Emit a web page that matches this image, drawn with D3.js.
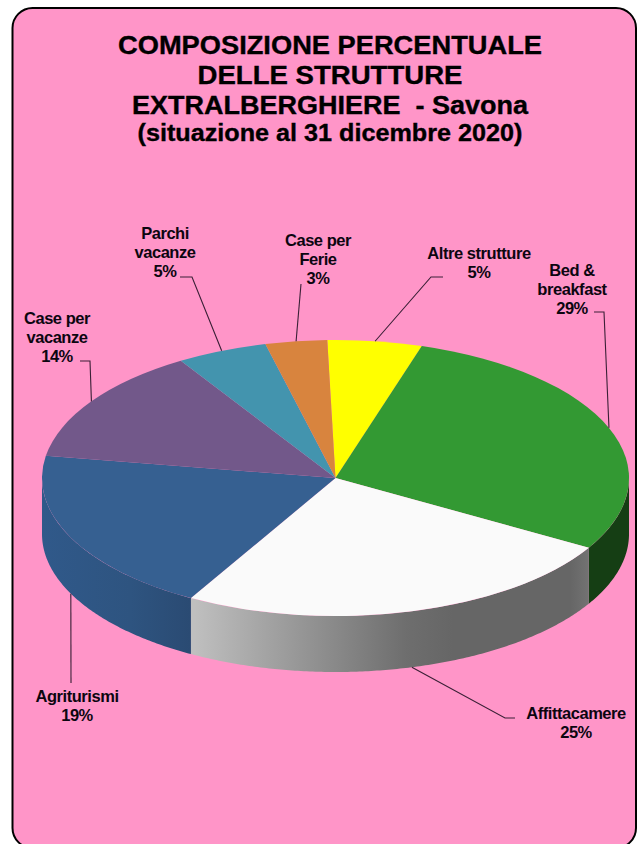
<!DOCTYPE html>
<html>
<head>
<meta charset="utf-8">
<script src="https://cdn.jsdelivr.net/npm/d3@7"></script>
<style>
  html, body { margin: 0; padding: 0; background: #fff; }
  svg { display: block; }
  text { font-family: "Liberation Sans", Arial, sans-serif; fill: #000; text-anchor: middle; }
  .title { font-weight: bold; stroke: #000; stroke-width: 0.35px; }
  .label { font-size: 16.5px; font-weight: bold; fill: #0c0610; letter-spacing: -0.45px; }
</style>
</head>
<body>
<div id="chart"></div>
<script>
const titleLines = ['COMPOSIZIONE PERCENTUALE', 'DELLE STRUTTURE', 'EXTRALBERGHIERE  - Savona', '(situazione al 31 dicembre 2020)'];

// clockwise from the top
const categories = [['Altre strutture'], ['Bed &', 'breakfast'], ['Affittacamere'], ['Agriturismi'], ['Case per', 'vacanze'], ['Parchi', 'vacanze'], ['Case per', 'Ferie']];
const shares = [5.2, 28.7, 24.8, 19.4, 13.6, 5.0, 3.4];
const topColors = ['#ffff00', '#339933', '#fafafa', '#366091', '#72588a', '#4394ae', '#d8843e'];

// label centre and leader elbow, same order as categories
const labelX = [479, 572, 576, 77, 57, 165, 318];
const labelY = [263, 290, 723, 706, 338, 253, 260];
const leaderBend = [[431, 277, 443], [604, 312, 594], [505, 718, 515], null, [90, 361, 80], [192, 277, 180], null];
const leaderEnd = [null, null, null, [71, 683], null, null, [301, 284]];

const w = 638;
const h = 844;
const depth = 56;
const startAngle = -1.6 * Math.PI / 180;

const xScale = d3.scaleLinear().domain([-1, 1]).range([42, 629]);
const yScale = d3.scaleLinear().domain([-1, 1]).range([340, 616]);
const rx = (xScale(1) - xScale(-1)) / 2;
const ry = (yScale(1) - yScale(-1)) / 2;

const svg = d3.select('#chart').append('svg').attr('width', w).attr('height', h);

svg.append('rect')
  .attr('x', 12.5).attr('y', 8)
  .attr('width', 623.5).attr('height', 840)
  .attr('rx', 20)
  .attr('fill', '#ff95c8')
  .attr('stroke', '#000')
  .attr('stroke-width', 2);

// title is stretched wider than the font, so each line gets a fixed length
const titleSizes = [25, 25, 25, 23];
const titleY = [54, 84, 114, 141];
const titleWidths = [424, 265, 396, 385];
svg.selectAll('.title').data(titleLines).join('text')
  .attr('class', 'title')
  .attr('x', 330)
  .attr('y', (_, i) => titleY[i])
  .attr('font-size', (_, i) => titleSizes[i])
  .attr('textLength', (_, i) => titleWidths[i])
  .attr('lengthAdjust', 'spacingAndGlyphs')
  .style('white-space', 'pre')
  .text((d) => d);

const slices = d3.pie().sort(null)
  .startAngle(startAngle)
  .endAngle(startAngle + 2 * Math.PI)(shares);

// side wall gradients, the real shading runs left to right
const defs = svg.append('defs');
function addGradient(id, stops) {
  const g = defs.append('linearGradient')
    .attr('id', id)
    .attr('gradientUnits', 'userSpaceOnUse')
    .attr('x1', xScale(-1)).attr('x2', xScale(1))
    .attr('y1', 0).attr('y2', 0);
  stops.forEach(([offset, color]) => {
    g.append('stop').attr('offset', offset).attr('stop-color', color);
  });
}
addGradient('wall-1', [[0, '#153e14'], [1, '#153e14']]);
addGradient('wall-2', [[0.26, '#bfbfbf'], [0.45, '#949494'], [0.62, '#6e6e6e'], [0.7, '#666'], [0.9, '#666'], [0.93, '#727272']]);
addGradient('wall-3', [[0, '#30598a'], [0.15, '#2e5480'], [0.26, '#2a4a72']]);

const wallArea = d3.area()
  .x((a) => xScale(Math.sin(a)))
  .y0((a) => yScale(-Math.cos(a)))
  .y1((a) => yScale(-Math.cos(a)) + depth);

// only the part of a slice facing the viewer has a wall
slices.forEach((s, i) => {
  const from = Math.max(s.startAngle, Math.PI / 2);
  const to = Math.min(s.endAngle, 3 * Math.PI / 2);
  if (from >= to) return;
  const angles = d3.range(from, to, 0.01).concat([to]);
  svg.append('path')
    .attr('d', wallArea(angles))
    .attr('fill', `url(#wall-${i})`);
});

// top face: drawn as a circle and squashed to the ellipse
const arc = d3.arc().innerRadius(0).outerRadius(rx);
svg.append('g')
  .attr('transform', `translate(${xScale(0)},${yScale(0)}) scale(1,${ry / rx})`)
  .selectAll('path')
  .data(slices)
  .join('path')
  .attr('d', arc)
  .attr('fill', (_, i) => topColors[i]);

// leader lines start on the rim at the middle of each slice
const leader = d3.line();
slices.forEach((s, i) => {
  const mid = (s.startAngle + s.endAngle) / 2;
  const front = Math.cos(mid) < 0;
  const start = [xScale(Math.sin(mid)), yScale(-Math.cos(mid)) + (front ? depth : 0)];
  let pts;
  if (leaderBend[i]) {
    const [bx, by, ex] = leaderBend[i];
    pts = [start, [bx, by], [ex, by]];
  } else {
    pts = [start, leaderEnd[i]];
  }
  svg.append('path')
    .attr('d', leader(pts))
    .attr('fill', 'none')
    .attr('stroke', '#3a2036')
    .attr('stroke-width', 1.1);
});

// labels
const lineStep = 19;
slices.forEach((s, i) => {
  const lines = categories[i].concat([`${Math.round(s.value)}%`]);
  const top = labelY[i] - ((lines.length - 1) * lineStep) / 2;
  svg.append('text')
    .attr('class', 'label')
    .selectAll('tspan')
    .data(lines)
    .join('tspan')
    .attr('x', labelX[i])
    .attr('y', (_, k) => top + k * lineStep + 5)
    .text((d) => d);
});
</script>
</body>
</html>
